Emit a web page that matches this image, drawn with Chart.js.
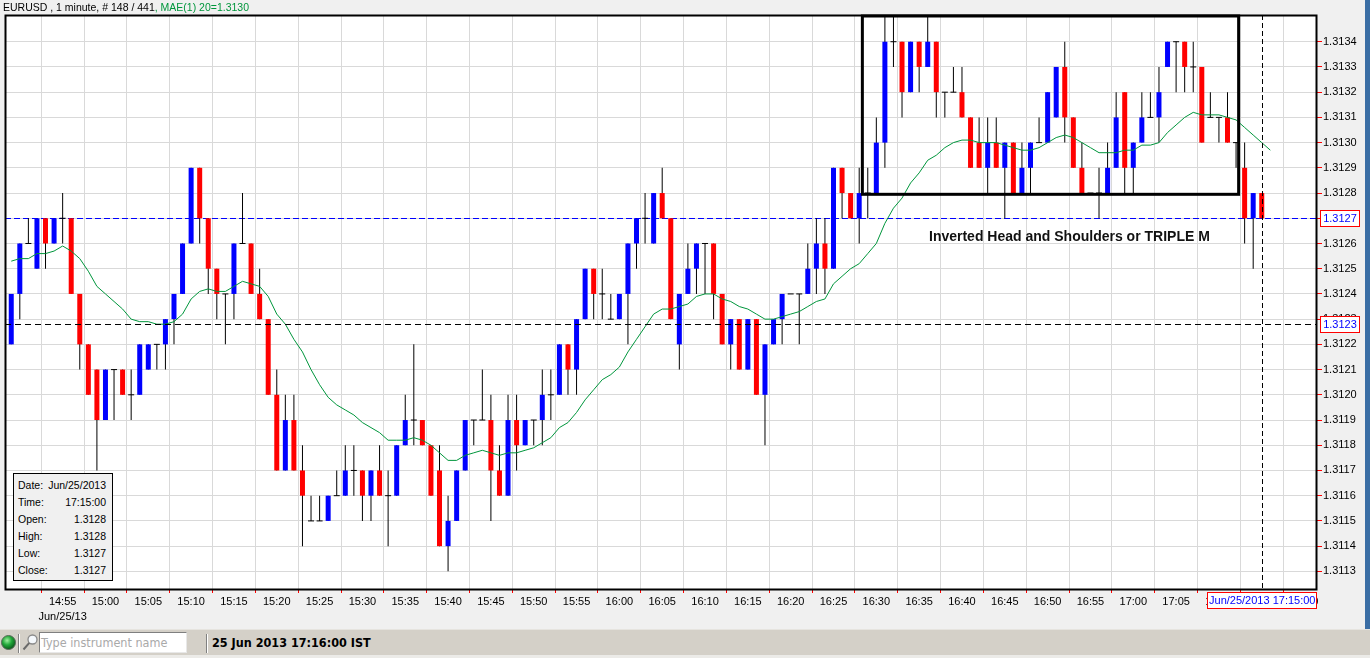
<!DOCTYPE html>
<html>
<head>
<meta charset="utf-8">
<title>EURUSD , 1 minute</title>
<script src="https://cdn.jsdelivr.net/npm/chart.js@4.4.1/dist/chart.umd.min.js"></script>
<style>
  html, body { margin: 0; padding: 0; }
  body {
    width: 1370px; height: 658px; position: relative; overflow: hidden;
    background: #f0f0f0; font-family: "Liberation Sans", Arial, sans-serif;
  }
  #wrap { position: absolute; left: 0; top: 0; width: 1365px; height: 629px; }
  #head {
    position: absolute; left: 3px; top: 0; font-size: 10.5px; line-height: 14px;
    white-space: pre; color: #000;
  }
  #head .ma { color: #00963c; }
  #info {
    position: absolute; left: 13px; top: 473px; width: 100px; height: 108px;
    box-sizing: border-box; border: 1px solid #000; background: #f0f0f0;
    padding: 3px 6px 0 4px; font-size: 10.5px; line-height: 17px;
  }
  #info div { display: flex; justify-content: space-between; }
  #status {
    position: absolute; left: 0; top: 629px; width: 1370px; height: 26px;
    background: #d4d0c8; border-top: 1px solid #e6e4df;
  }
  #foot { position: absolute; left: 0; top: 655px; width: 1370px; height: 3px; background: #ecebe8; }
  .sep { position: absolute; top: 4px; width: 1px; height: 19px; background: #808080; border-right: 1px solid #fff; }
  #search {
    position: absolute; left: 39px; top: 2px; width: 148px; height: 21px; box-sizing: border-box;
    background: #fff; border: 1px solid #7f7f7f; border-right-color: #e8e8e8; border-bottom-color: #e8e8e8;
    font-family: "Liberation Sans Narrow", "DejaVu Sans Condensed", sans-serif;
    font-size: 12.5px; line-height: 19px; color: #a9a9a9; padding-left: 1px; white-space: nowrap;
  }
  #clock {
    position: absolute; left: 212px; top: 4px; font-weight: bold;
    font-family: "Liberation Sans Narrow", "DejaVu Sans Condensed", sans-serif;
    font-size: 12.5px; line-height: 18px; color: #000; white-space: nowrap;
  }
  #edge { position: absolute; left: 1365px; top: 0; width: 5px; height: 629px; background: #3b6ea5; }
</style>
</head>
<body>
<div id="wrap"><canvas id="chart"></canvas></div>
<div id="head">EURUSD , 1 minute, # 148 / 441<span class="ma">, MAE(1) 20=<span id="maNow"></span></span></div>
<div id="info">
  <div><span>Date:</span><span id="iDate"></span></div>
  <div><span>Time:</span><span id="iTime"></span></div>
  <div><span>Open:</span><span id="iOpen"></span></div>
  <div><span>High:</span><span id="iHigh"></span></div>
  <div><span>Low:</span><span id="iLow"></span></div>
  <div><span>Close:</span><span id="iClose"></span></div>
</div>
<div id="status">
  <svg style="position:absolute;left:0;top:4px" width="17" height="18">
    <defs>
      <radialGradient id="led" cx="40%" cy="35%" r="65%">
        <stop offset="0" stop-color="#9ff09f"/>
        <stop offset="0.5" stop-color="#22a83a"/>
        <stop offset="1" stop-color="#0a5a1a"/>
      </radialGradient>
    </defs>
    <circle cx="8.5" cy="8.5" r="7" fill="url(#led)" stroke="#5a6a5a" stroke-width="1"/>
  </svg>
  <div class="sep" style="left:18px"></div>
  <svg style="position:absolute;left:22px;top:3px" width="17" height="20">
    <circle cx="10.5" cy="6.5" r="4.5" fill="#f4f8fc" stroke="#8a8a8a" stroke-width="1.3"/>
    <line x1="7.3" y1="9.8" x2="1.5" y2="16.5" stroke="#6a6a6a" stroke-width="2"/>
  </svg>
  <div id="search">Type instrument name</div>
  <div class="sep" style="left:206px"></div>
  <div id="clock">25 Jun 2013 17:16:00 IST</div>
</div>
<div id="foot"></div>
<div id="edge"></div>

<script>
// EURUSD 1 minute candles, 25 Jun 2013
var times = [
  '14:49','14:50','14:51','14:52','14:53','14:54','14:55','14:56','14:57','14:58',
  '14:59','15:00','15:01','15:02','15:03','15:04','15:05','15:06','15:07','15:08',
  '15:09','15:10','15:11','15:12','15:13','15:14','15:15','15:16','15:17','15:18',
  '15:19','15:20','15:21','15:22','15:23','15:24','15:25','15:26','15:27','15:28',
  '15:29','15:30','15:31','15:32','15:33','15:34','15:35','15:36','15:37','15:38',
  '15:39','15:40','15:41','15:42','15:43','15:44','15:45','15:46','15:47','15:48',
  '15:49','15:50','15:51','15:52','15:53','15:54','15:55','15:56','15:57','15:58',
  '15:59','16:00','16:01','16:02','16:03','16:04','16:05','16:06','16:07','16:08',
  '16:09','16:10','16:11','16:12','16:13','16:14','16:15','16:16','16:17','16:18',
  '16:19','16:20','16:21','16:22','16:23','16:24','16:25','16:26','16:27','16:28',
  '16:29','16:30','16:31','16:32','16:33','16:34','16:35','16:36','16:37','16:38',
  '16:39','16:40','16:41','16:42','16:43','16:44','16:45','16:46','16:47','16:48',
  '16:49','16:50','16:51','16:52','16:53','16:54','16:55','16:56','16:57','16:58',
  '16:59','17:00','17:01','17:02','17:03','17:04','17:05','17:06','17:07','17:08',
  '17:09','17:10','17:11','17:12','17:13','17:14','17:15'
];

var open = [
  1.3122,1.3124,1.3126,1.3125,1.3127,1.3126,1.3127,1.3127,1.3124,1.3122,
  1.3121,1.3119,1.3121,1.3121,1.3120,1.3120,1.3121,1.3122,1.3122,1.3123,
  1.3124,1.3126,1.3129,1.3127,1.3125,1.3124,1.3124,1.3126,1.3126,1.3124,
  1.3123,1.3120,1.3117,1.3119,1.3117,1.3115,1.3115,1.3115,1.3116,1.3116,
  1.3117,1.3117,1.3116,1.3117,1.3116,1.3116,1.3118,1.3119,1.3119,1.3118,
  1.3117,1.3114,1.3115,1.3117,1.3119,1.3119,1.3119,1.3117,1.3116,1.3119,
  1.3118,1.3119,1.3119,1.3120,1.3120,1.3122,1.3121,1.3123,1.3125,1.3124,
  1.3123,1.3123,1.3124,1.3126,1.3127,1.3126,1.3128,1.3127,1.3122,1.3124,
  1.3125,1.3126,1.3126,1.3124,1.3122,1.3123,1.3121,1.3123,1.3120,1.3122,
  1.3123,1.3124,1.3124,1.3124,1.3125,1.3126,1.3125,1.3129,1.3128,1.3127,
  1.3128,1.3128,1.3130,1.3134,1.3134,1.3132,1.3134,1.3133,1.3134,1.3132,
  1.3132,1.3132,1.3131,1.3130,1.3129,1.3130,1.3129,1.3130,1.3128,1.3129,
  1.3130,1.3130,1.3131,1.3133,1.3131,1.3129,1.3128,1.3128,1.3128,1.3129,
  1.3132,1.3129,1.3130,1.3131,1.3131,1.3133,1.3134,1.3134,1.3133,1.3133,
  1.3131,1.3131,1.3131,1.3130,1.3129,1.3127,1.3128
];

var high = [
  1.3124,1.3126,1.3127,1.3127,1.3127,1.3127,1.3128,1.3127,1.3124,1.3122,
  1.3121,1.3121,1.3121,1.3121,1.3121,1.3122,1.3122,1.3122,1.3123,1.3124,
  1.3126,1.3129,1.3129,1.3127,1.3125,1.3124,1.3126,1.3128,1.3126,1.3125,
  1.3123,1.3121,1.3120,1.3120,1.3118,1.3116,1.3116,1.3116,1.3117,1.3118,
  1.3118,1.3117,1.3117,1.3118,1.3117,1.3118,1.3120,1.3122,1.3119,1.3118,
  1.3118,1.3116,1.3117,1.3119,1.3119,1.3121,1.3120,1.3118,1.3120,1.3120,
  1.3119,1.3119,1.3121,1.3121,1.3122,1.3122,1.3123,1.3125,1.3125,1.3125,
  1.3124,1.3124,1.3126,1.3127,1.3128,1.3128,1.3129,1.3127,1.3124,1.3126,
  1.3126,1.3126,1.3126,1.3124,1.3123,1.3123,1.3123,1.3123,1.3122,1.3123,
  1.3124,1.3124,1.3124,1.3126,1.3127,1.3127,1.3129,1.3129,1.3128,1.3129,
  1.3129,1.3131,1.3135,1.3135,1.3134,1.3134,1.3134,1.3135,1.3134,1.3132,
  1.3133,1.3133,1.3131,1.3131,1.3131,1.3131,1.3130,1.3130,1.3130,1.3130,
  1.3131,1.3132,1.3133,1.3134,1.3131,1.3130,1.3128,1.3129,1.3130,1.3132,
  1.3132,1.3130,1.3132,1.3132,1.3133,1.3134,1.3134,1.3134,1.3134,1.3133,
  1.3132,1.3131,1.3132,1.3130,1.3130,1.3128,1.3128
];

var low = [
  1.3122,1.3123,1.3126,1.3125,1.3125,1.3126,1.3126,1.3124,1.3121,1.3120,
  1.3117,1.3119,1.3119,1.3120,1.3119,1.3120,1.3121,1.3121,1.3121,1.3122,
  1.3124,1.3126,1.3126,1.3124,1.3123,1.3122,1.3123,1.3126,1.3124,1.3123,
  1.3120,1.3117,1.3117,1.3117,1.3114,1.3115,1.3115,1.3115,1.3116,1.3116,
  1.3116,1.3115,1.3115,1.3116,1.3114,1.3116,1.3118,1.3118,1.3118,1.3116,
  1.3114,1.3113,1.3115,1.3117,1.3118,1.3119,1.3115,1.3116,1.3116,1.3117,
  1.3118,1.3118,1.3118,1.3119,1.3120,1.3120,1.3120,1.3123,1.3123,1.3123,
  1.3123,1.3123,1.3122,1.3125,1.3126,1.3126,1.3127,1.3123,1.3121,1.3124,
  1.3124,1.3124,1.3123,1.3122,1.3121,1.3121,1.3121,1.3120,1.3118,1.3122,
  1.3122,1.3124,1.3122,1.3124,1.3124,1.3124,1.3125,1.3127,1.3127,1.3126,
  1.3127,1.3128,1.3129,1.3133,1.3131,1.3132,1.3132,1.3133,1.3131,1.3131,
  1.3132,1.3131,1.3129,1.3129,1.3128,1.3129,1.3127,1.3128,1.3128,1.3128,
  1.3130,1.3130,1.3131,1.3130,1.3129,1.3128,1.3128,1.3127,1.3128,1.3129,
  1.3128,1.3128,1.3130,1.3131,1.3130,1.3133,1.3132,1.3132,1.3132,1.3130,
  1.3131,1.3130,1.3130,1.3129,1.3126,1.3125,1.3127
];

var close = [
  1.3124,1.3126,1.3126,1.3127,1.3126,1.3127,1.3127,1.3124,1.3122,1.3120,
  1.3119,1.3121,1.3121,1.3120,1.3120,1.3122,1.3122,1.3122,1.3123,1.3124,
  1.3126,1.3129,1.3127,1.3125,1.3124,1.3124,1.3126,1.3126,1.3124,1.3123,
  1.3120,1.3117,1.3119,1.3117,1.3116,1.3115,1.3115,1.3116,1.3116,1.3117,
  1.3117,1.3116,1.3117,1.3116,1.3116,1.3118,1.3119,1.3119,1.3118,1.3116,
  1.3114,1.3115,1.3117,1.3119,1.3119,1.3119,1.3117,1.3116,1.3119,1.3118,
  1.3119,1.3119,1.3120,1.3120,1.3122,1.3121,1.3123,1.3125,1.3124,1.3124,
  1.3123,1.3124,1.3126,1.3127,1.3127,1.3128,1.3127,1.3123,1.3124,1.3125,
  1.3126,1.3126,1.3124,1.3122,1.3123,1.3121,1.3123,1.3120,1.3122,1.3123,
  1.3124,1.3124,1.3124,1.3125,1.3126,1.3125,1.3129,1.3128,1.3127,1.3128,
  1.3128,1.3130,1.3134,1.3134,1.3132,1.3134,1.3133,1.3134,1.3132,1.3132,
  1.3132,1.3131,1.3129,1.3129,1.3130,1.3129,1.3130,1.3128,1.3129,1.3130,
  1.3130,1.3132,1.3133,1.3131,1.3129,1.3128,1.3128,1.3128,1.3129,1.3131,
  1.3129,1.3130,1.3131,1.3131,1.3132,1.3134,1.3134,1.3133,1.3133,1.3130,
  1.3131,1.3131,1.3130,1.3130,1.3127,1.3128,1.3127
];

// MAE(1) 20; shifted one bar, so it runs to 17:16
var maTimes = times.concat(['17:16']);
var maValues = [
  1.31253,1.31254,1.31254,1.31256,1.31256,1.31257,1.31259,1.31257,1.31254,1.31249,
  1.31243,1.31240,1.31237,1.31234,1.31230,1.31229,1.31229,1.31228,1.31228,1.31229,
  1.31232,1.31238,1.31241,1.31242,1.31241,1.31241,1.31243,1.31245,1.31244,1.31243,
  1.31239,1.31232,1.31228,1.31222,1.31217,1.31210,1.31204,1.31199,1.31196,1.31194,
  1.31192,1.31189,1.31187,1.31185,1.31182,1.31182,1.31182,1.31183,1.31182,1.31180,
  1.31177,1.31174,1.31174,1.31176,1.31177,1.31178,1.31177,1.31176,1.31177,1.31177,
  1.31178,1.31179,1.31181,1.31183,1.31187,1.31189,1.31193,1.31198,1.31202,1.31206,
  1.31208,1.31211,1.31217,1.31222,1.31227,1.31232,1.31234,1.31234,1.31235,1.31236,
  1.31239,1.31240,1.31240,1.31238,1.31237,1.31235,1.31234,1.31232,1.31230,1.31230,
  1.31231,1.31232,1.31233,1.31235,1.31237,1.31238,1.31244,1.31247,1.31250,1.31252,
  1.31256,1.31260,1.31268,1.31274,1.31278,1.31284,1.31288,1.31293,1.31295,1.31298,
  1.31300,1.31301,1.31301,1.31300,1.31300,1.31300,1.31299,1.31298,1.31297,1.31297,
  1.31298,1.31300,1.31302,1.31303,1.31302,1.31300,1.31298,1.31296,1.31296,1.31296,
  1.31297,1.31297,1.31299,1.31299,1.31300,1.31304,1.31307,1.31310,1.31312,1.31311,
  1.31311,1.31311,1.31310,1.31309,1.31306,1.31303,1.31300,1.31297
];

var xTickLabels = [
  '14:55','15:00','15:05','15:10','15:15','15:20','15:25','15:30','15:35','15:40',
  '15:45','15:50','15:55','16:00','16:05','16:10','16:15','16:20','16:25','16:30',
  '16:35','16:40','16:45','16:50','16:55','17:00','17:05','17:10','17:15','17:20'
];
var yTickLabels = [
  1.3113,1.3114,1.3115,1.3116,1.3117,1.3118,1.3119,1.3120,1.3121,1.3122,1.3123,
  1.3124,1.3125,1.3126,1.3127,1.3128,1.3129,1.3130,1.3131,1.3132,1.3133,1.3134
];

var dateShort = 'Jun/25/13';
var dateLong = 'Jun/25/2013';
var crossPrice = 1.31228;      // mouse crosshair
var crossTime = '17:15';

var FONT = '"Liberation Sans", Arial, sans-serif';
var UP = '#0000ff', DOWN = '#ff0000';

function minuteIndex(t) {
  var p = t.split(':'), b = times[0].split(':');
  return (+p[0] * 60 + +p[1]) - (+b[0] * 60 + +b[1]);
}

var last = close.length - 1;
var bidPrice = close[last];

// pattern box, from mid 16:28 to mid 17:12, top of chart down to 1.3128
var patternBox = { from: minuteIndex('16:28') + 0.37, to: minuteIndex('17:12') + 0.3, bottom: 1.312795 };

var wickData = [], bodyData = [], bodyColors = [], dojiData = [];
for (var i = 0; i < times.length; i++) {
  var x = minuteIndex(times[i]);
  wickData.push({ x: x, y: [low[i], high[i]] });
  if (open[i] === close[i]) {
    dojiData.push({ x: x, y: open[i] });
  } else {
    bodyData.push({ x: x, y: [open[i], close[i]] });
    bodyColors.push(close[i] > open[i] ? UP : DOWN);
  }
}
var maData = maTimes.map(function (t, i) { return { x: minuteIndex(t), y: maValues[i] }; });

document.getElementById('maNow').textContent = maValues[maValues.length - 1].toFixed(4);
document.getElementById('iDate').textContent = dateLong;
document.getElementById('iTime').textContent = times[last] + ':00';
document.getElementById('iOpen').textContent = open[last].toFixed(4);
document.getElementById('iHigh').textContent = high[last].toFixed(4);
document.getElementById('iLow').textContent = low[last].toFixed(4);
document.getElementById('iClose').textContent = close[last].toFixed(4);

function tagBox(ctx, text, cx, cy, w, h) {
  ctx.fillStyle = '#fff';
  ctx.fillRect(Math.round(cx - w / 2), Math.round(cy - h / 2), w, h);
  ctx.strokeStyle = '#ff0000';
  ctx.lineWidth = 1;
  ctx.strokeRect(Math.round(cx - w / 2) + 0.5, Math.round(cy - h / 2) + 0.5, w - 1, h - 1);
  ctx.fillStyle = '#0000ff';
  ctx.font = '11px ' + FONT;
  ctx.textAlign = 'center';
  ctx.textBaseline = 'middle';
  ctx.fillText(text, cx, cy + 0.5);
}

var overlay = {
  id: 'overlay',
  beforeDraw: function (chart) {
    var a = chart.chartArea, ctx = chart.ctx;
    ctx.save();
    ctx.fillStyle = '#fff';
    ctx.fillRect(a.left, a.top, a.right - a.left, a.bottom - a.top);
    ctx.restore();
  },
  beforeDatasetsDraw: function (chart) {
    var a = chart.chartArea, ctx = chart.ctx;
    var y = Math.round(chart.scales.y.getPixelForValue(bidPrice)) + 0.5;
    ctx.save();
    ctx.strokeStyle = '#0000ff';
    ctx.lineWidth = 1;
    ctx.setLineDash([6, 3]);
    ctx.beginPath(); ctx.moveTo(a.left, y); ctx.lineTo(a.right, y); ctx.stroke();
    ctx.restore();
  },
  afterDatasetsDraw: function (chart) {
    var a = chart.chartArea, ctx = chart.ctx, xs = chart.scales.x, ys = chart.scales.y;
    ctx.save();
    // crosshair
    ctx.strokeStyle = '#000';
    ctx.lineWidth = 1;
    ctx.setLineDash([6, 4]);
    var cy = Math.round(ys.getPixelForValue(crossPrice)) + 0.5;
    ctx.beginPath(); ctx.moveTo(a.left, cy); ctx.lineTo(a.right, cy); ctx.stroke();
    ctx.setLineDash([5, 3]);
    var cx = Math.round(xs.getPixelForValue(minuteIndex(crossTime))) + 0.5;
    ctx.beginPath(); ctx.moveTo(cx, a.top); ctx.lineTo(cx, a.bottom); ctx.stroke();
    ctx.setLineDash([]);

    // pattern box
    var bx0 = xs.getPixelForValue(patternBox.from);
    var bx1 = xs.getPixelForValue(patternBox.to);
    var by1 = ys.getPixelForValue(patternBox.bottom);
    ctx.lineWidth = 3;
    ctx.strokeStyle = '#000';
    ctx.strokeRect(bx0, a.top + 1, bx1 - bx0, by1 - a.top - 1);

    // caption
    ctx.fillStyle = '#111';
    ctx.font = 'bold 14px ' + FONT;
    ctx.textAlign = 'left';
    ctx.textBaseline = 'alphabetic';
    ctx.fillText('Inverted Head and Shoulders or TRIPLE M', 929, 241);

    // frame
    ctx.lineWidth = 2;
    ctx.strokeRect(a.left + 0.5, a.top + 0.5, a.right - a.left - 1, a.bottom - a.top);
    ctx.restore();
  },
  afterDraw: function (chart) {
    var a = chart.chartArea, ctx = chart.ctx, ys = chart.scales.y, xs = chart.scales.x;
    ctx.save();
    tagBox(ctx, bidPrice.toFixed(4), a.right + 23, ys.getPixelForValue(bidPrice), 40, 17);
    tagBox(ctx, crossPrice.toFixed(4), a.right + 23, ys.getPixelForValue(crossPrice), 40, 17);
    var tx = xs.getPixelForValue(minuteIndex(crossTime));
    tagBox(ctx, dateLong + ' ' + crossTime + ':00', tx + 0.5, a.bottom + 11, 110, 17);
    ctx.restore();
  }
};

Chart.defaults.font.family = FONT;
Chart.defaults.color = '#000';

new Chart(document.getElementById('chart'), {
  type: 'bar',
  data: {
    datasets: [
      {
        type: 'line', label: 'MAE(1) 20', data: maData,
        borderColor: '#00963c', borderWidth: 1, pointRadius: 0, tension: 0, order: 0
      },
      {
        type: 'line', label: 'doji', data: dojiData, showLine: false,
        pointStyle: 'line', pointRadius: 3, pointBorderColor: '#000', pointBorderWidth: 1, order: 1
      },
      {
        label: 'body', data: bodyData, backgroundColor: bodyColors,
        barThickness: 5, grouped: false, inflateAmount: 0, order: 2
      },
      {
        label: 'wick', data: wickData, backgroundColor: '#000',
        barThickness: 1, grouped: false, inflateAmount: 0, order: 3
      }
    ]
  },
  options: {
    responsive: true,
    maintainAspectRatio: false,
    animation: false,
    devicePixelRatio: 1,
    events: [],
    layout: { padding: { left: 3, top: 15, right: 0, bottom: 0 } },
    plugins: { legend: { display: false }, tooltip: { enabled: false } },
    scales: {
      x: {
        type: 'linear',
        min: -0.73,
        max: 152.45,
        offset: false,
        border: { display: false },
        grid: { color: '#d9d9d9', tickColor: '#ff0000', tickLength: 4 },
        afterBuildTicks: function (s) {
          s.ticks = xTickLabels.map(function (t) { return { value: minuteIndex(t) }; });
        },
        afterFit: function (s) { s.height = 40; },
        ticks: {
          autoSkip: false, maxRotation: 0, padding: 2,
          font: { size: 11, lineHeight: 1.35 },
          callback: function (v, i) { return i === 0 ? [xTickLabels[0], dateShort] : xTickLabels[i]; }
        }
      },
      y: {
        type: 'linear',
        position: 'right',
        min: 1.311230,
        max: 1.313506,
        border: { display: false },
        grid: { color: '#d9d9d9', tickColor: '#ff0000', tickLength: 5 },
        afterBuildTicks: function (s) {
          s.ticks = yTickLabels.map(function (v) { return { value: v }; });
        },
        afterFit: function (s) { s.width = 48; },
        ticks: {
          autoSkip: false, padding: 1, font: { size: 11 },
          callback: function (v) { return v.toFixed(4); }
        }
      }
    }
  },
  plugins: [overlay]
});
</script>
</body>
</html>
